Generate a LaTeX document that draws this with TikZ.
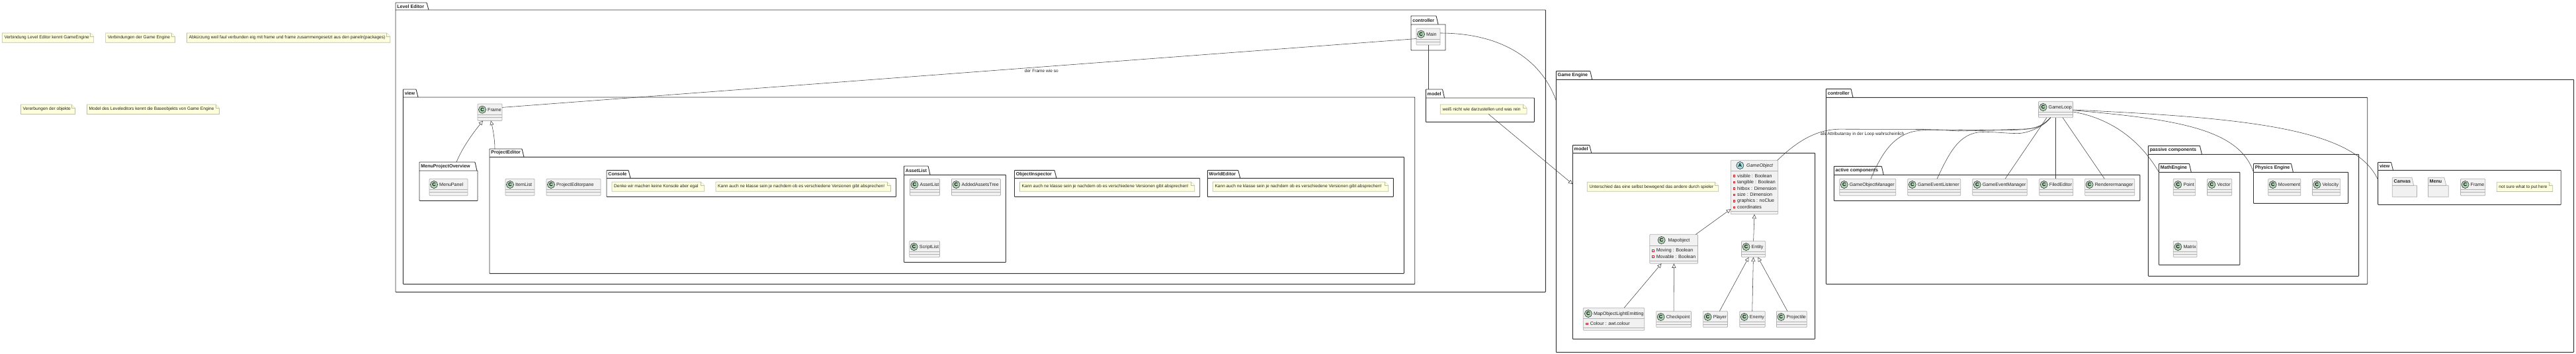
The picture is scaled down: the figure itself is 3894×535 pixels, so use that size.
\documentclass[tikz,border=0pt]{standalone}
\usepackage{fontspec}
\setmainfont{Liberation Sans}
\usetikzlibrary{arrows.meta}
\definecolor{clsfill}{HTML}{F1F1F1}
\definecolor{clsline}{HTML}{B0B0B0}
\definecolor{notefill}{HTML}{FEFFDD}
\definecolor{noteline}{HTML}{BDBDA8}
\definecolor{circC}{HTML}{ADD1B2}
\definecolor{circA}{HTML}{A9DCDF}
\definecolor{pkgline}{HTML}{333333}
\definecolor{edgeline}{HTML}{404040}
\definecolor{attrred}{HTML}{C82930}
\definecolor{txt}{HTML}{202020}
\tikzset{
  clsnode/.style={draw=clsline,fill=clsfill,line width=.7pt,rounded corners=1pt,inner sep=0pt,outer sep=0pt},
  clstext/.style={font=\fontsize{7.1}{8}\selectfont,text=txt,inner sep=0pt,anchor=west},
  noteshape/.style={draw=noteline,fill=notefill,line width=.7pt},
  notetext/.style={font=\fontsize{6.6}{8}\selectfont,text=txt,inner sep=0pt,anchor=west},
  pkgnode/.style={draw=pkgline,line width=.9pt,rounded corners=.6pt,inner sep=0pt,outer sep=0pt},
  tabtext/.style={font=\bfseries\fontsize{7.1}{8}\selectfont,text=txt,inner sep=0pt,anchor=west},
  edgeln/.style={draw=edgeline,line width=.55pt},
  inherit/.style={edgeln,-{Triangle[open,length=6.5pt,width=6pt]}},
  linklabel/.style={font=\fontsize{6.6}{8}\selectfont,text=txt,inner sep=0pt}
}
\newcommand{\umlbody}[5]{%
  \node[clsnode,minimum width={(#4-#2)*1pt},minimum height={(#5-#3)*1pt}] (#1) at ({(#2+#4)/2},{(#3+#5)/2}) {};}
\newcommand{\umlcirc}[4]{%
  \draw[draw=txt,fill=#4,line width=.5pt] (#1,#2) circle (5.6pt);
  \node[font=\bfseries\fontsize{7.5}{8}\selectfont,inner sep=0pt,text=black] at (#1,#2) {#3};}
\newcommand{\umlcls}[6]{%
  \umlbody{#1}{#2}{#3}{#4}{#5}
  \draw[draw=clsline,line width=.7pt] (#2,{#3+16}) -- (#4,{#3+16}) (#2,{#3+20.5}) -- (#4,{#3+20.5});
  \umlcirc{{#2+7}}{{#3+8.7}}{C}{circC}
  \node[clstext] (#1-l) at ({#2+15},{#3+9}) {#6};}
\newcommand{\umlattr}[4]{%
  \draw[draw=attrred,fill=white,line width=.45pt] ({#2-6.2},{#3-1.4}) rectangle ({#2-3.4},{#3+1.4});
  \node[clstext] (#1) at (#2,#3) {#4};}
\newcommand{\umlnote}[6]{%
  \node[inner sep=0pt,minimum width={(#4-#2)*1pt},minimum height={(#5-#3)*1pt}] (#1) at ({(#2+#4)/2},{(#3+#5)/2}) {};
  \draw[noteshape] (#2,#3) -- ({#4-5.3},#3) -- (#4,{#3+5.3}) -- (#4,#5) -- (#2,#5) -- cycle;
  \draw[noteshape] ({#4-5.3},#3) -- ({#4-5.3},{#3+5.3}) -- (#4,{#3+5.3});
  \node[notetext] (#1-t) at ({#2+3},{(#3+#5)/2}) {#6};}
\newcommand{\umlpkg}[8]{%
  \node[pkgnode,minimum width={(#5-#2)*1pt},minimum height={(#6-#4)*1pt}] (#1) at ({(#2+#5)/2},{(#4+#6)/2}) {};
  \draw[draw=pkgline,line width=.9pt,rounded corners=.6pt] (#2,#4) -- (#2,#3) -- ({#7-3},#3) -- (#7,#4);
  \node[tabtext] (#1-t) at ({#2+2.2},{(#3+#4)/2}) {#8};}
\newcommand{\umlfolder}[7]{%
  \node[inner sep=0pt,minimum width={(#5-#2)*1pt},minimum height={(#6-#4)*1pt}] (#1) at ({(#2+#5)/2},{(#4+#6)/2}) {};
  \draw[draw=clsline,fill=clsfill,line width=.7pt,rounded corners=.6pt] (#2,#4) -- (#2,#3) -- ({#7-3},#3) -- (#7,#4) -- (#5,#4) -- (#5,#6) -- (#2,#6) -- cycle;
  \draw[draw=clsline,line width=.7pt] (#2,#4) -- (#7,#4);}
\begin{document}
\begin{tikzpicture}[x=1pt,y=-1pt]
\useasboundingbox (0,0) rectangle (3894,535);
\umlnote{n1}{3.3}{50}{141.6}{64.3}{Verbindung Level Editor kennt GameEngine}
\umlnote{n2}{159.6}{50}{264.5}{64.3}{Verbindungen der Game Engine}
\umlnote{n3}{282.4}{50}{589.8}{64.3}{Abkürzung weil faul verbunden eig mit frame und frame zusammengesetzt aus den paneln(packages)}
\umlnote{n4}{31.4}{158}{113.5}{172.4}{Vererbungen der objekte}
\umlnote{n5}{131.4}{158}{331.4}{172.4}{Model des Leveleditors kennt die Baseobjekts von Game Engine}
\umlpkg{le}{598}{4}{15}{2336.3}{441.3}{648}{Level Editor}
\umlpkg{lectl}{2133}{24}{37}{2185}{76}{2174}{controller}
\umlcls{main}{2141}{43}{2177}{68}{Main}
\umlpkg{lemodel}{2155.3}{135}{148}{2319.3}{184.3}{2183.5}{model}
\umlnote{lenote}{2177.3}{158}{2308}{172.3}{weiß nicht wie darzustellen und was rein}
\umlpkg{leview}{609.4}{135}{147}{2138.7}{429.3}{632}{view}
\umlcls{frame}{722}{157}{759}{182.4}{Frame}
\umlpkg{mpo}{634}{245}{258}{722}{303.3}{721}{MenuProjectOverview}
\umlcls{menupanel}{649}{270.3}{707}{295.7}{MenuPanel}
\umlpkg{pe}{740}{225}{237.3}{2122.3}{413.3}{792}{ProjectEditor}
\umlcls{itemlist}{764}{270.3}{808}{295.7}{ItemList}
\umlcls{pepane}{826}{270.3}{908}{295.7}{ProjectEditorpane}
\umlpkg{console}{917}{257.3}{269.3}{1354.5}{297.3}{953}{Console}
\umlnote{cn1}{925}{275}{1064.7}{289.3}{Denke wir machen keine Konsole aber egal}
\umlnote{cn2}{1082}{275}{1346.4}{289.3}{Kann auch ne klasse sein je nachdem ob es verschiedene Versionen gibt absprechen!}
\umlpkg{asset}{1366.5}{251}{264.3}{1520.5}{396.3}{1406}{AssetList}
\umlcls{assetlist}{1375.4}{270.3}{1420.5}{295.7}{AssetList}
\umlcls{addedtree}{1438.4}{270.3}{1512.5}{295.7}{AddedAssetsTree}
\umlcls{scriptlist}{1374.6}{364.3}{1420.5}{388.7}{ScriptList}
\umlpkg{objinsp}{1533.5}{257.3}{269.3}{1813.7}{297.3}{1597}{ObjectInspector}
\umlnote{on1}{1541.5}{275}{1805.7}{289.3}{Kann auch ne klasse sein je nachdem ob es verschiedene Versionen gibt absprechen!}
\umlpkg{world}{1825.3}{257.3}{269.3}{2106.3}{297.3}{1874.7}{WorldEditor}
\umlnote{wn1}{1833.3}{275}{2098.7}{289.3}{Kann auch ne klasse sein je nachdem ob es verschiedene Versionen gibt absprechen!}
\umlpkg{ge}{2352.3}{107.3}{120.3}{3890.5}{532.3}{2406.7}{Game Engine}
\umlpkg{gemodel}{2377.3}{219.3}{231.3}{2743.6}{512.3}{2405.7}{model}
\umlnote{genote}{2399.3}{275.3}{2597.7}{289.3}{Unterschied das eine selbst bewegend das andere durch spieler}
\umlbody{gameobject}{2616.3}{242.3}{2687.7}{323.7}
\draw[draw=clsline,line width=.7pt] (2616.3,258.3) -- (2687.7,258.3) (2616.3,319) -- (2687.7,319);
\umlcirc{2630.3}{250}{A}{circA}
\node[clstext,font=\itshape\fontsize{7.1}{8}\selectfont] (gameobject-l) at (2640,250.5) {GameObject};
\umlattr{ga1}{2626}{265.7}{visible : Boolean}
\umlattr{ga2}{2626}{275.3}{tangible : Boolean}
\umlattr{ga3}{2626}{285}{hitbox : Dimension}
\umlattr{ga4}{2626}{294.3}{size : Dimension}
\umlattr{ga5}{2626}{303.7}{graphics : noClue}
\umlattr{ga6}{2626}{313.3}{coordinates}
\umlbody{mapobject}{2493.8}{354.3}{2566.5}{398.3}
\draw[draw=clsline,line width=.7pt] (2493.8,371.3) -- (2566.5,371.3) (2493.8,394.3) -- (2566.5,394.3);
\umlcirc{2511.6}{363}{C}{circC}
\node[clstext] (mapobject-l) at (2521.4,363.3) {Mapobject};
\umlattr{ma1}{2503.6}{378.7}{Moving : Boolean}
\umlattr{ma2}{2503.6}{388}{Movable : Boolean}
\umlbody{mole}{2393.3}{465.3}{2485.7}{499.3}
\draw[draw=clsline,line width=.7pt] (2393.3,481.7) -- (2485.7,481.7) (2393.3,495.7) -- (2485.7,495.7);
\umlcirc{2400.9}{474}{C}{circC}
\node[clstext] (mole-l) at (2408.9,474.3) {MapObjectLightEmitting};
\umlattr{mo1}{2403.6}{489.3}{Colour : awt.colour}
\umlcls{checkpoint}{2503.6}{470.3}{2556.5}{494.7}{Checkpoint}
\umlcls{entity}{2632.5}{364.3}{2668.7}{388.7}{Entity}
\umlcls{player}{2574.6}{470.3}{2611.4}{494.7}{Player}
\umlcls{enemy}{2629.7}{470.3}{2668.2}{494.7}{Enemy}
\umlcls{projectile}{2685.4}{470.3}{2731.3}{494.7}{Projectile}
\umlpkg{gectl}{2760.4}{134.3}{147.3}{3578.7}{429.3}{2801}{controller}
\umlcls{gameloop}{3081.5}{153.3}{3133.4}{177.7}{GameLoop}
\umlpkg{active}{2772.3}{251.3}{264.3}{3234.8}{303.3}{2847.3}{active components}
\umlcls{gom}{2780.7}{270.3}{2865.7}{295.7}{GameObjectManager}
\umlcls{gel}{2883.7}{270.3}{2963.7}{295.7}{GameEventListener}
\umlcls{gem}{2981.7}{270.3}{3064.3}{295.7}{GameEventManager}
\umlcls{filed}{3082.7}{270.3}{3133.8}{295.7}{FiledEditor}
\umlcls{render}{3151.6}{270.3}{3226.7}{295.7}{Renderermanager}
\umlpkg{passive}{3247.4}{220.3}{233.3}{3565.6}{417.3}{3328.4}{passive components}
\umlpkg{math}{3263.5}{247.3}{260.3}{3385.8}{400.3}{3312.3}{MathEngine}
\umlcls{point}{3285.3}{270.3}{3318.6}{295.7}{Point}
\umlcls{vector}{3336.4}{270.3}{3373.7}{295.7}{Vector}
\umlcls{matrix}{3285.3}{364.3}{3320.9}{388.7}{Matrix}
\umlpkg{physics}{3406.5}{247.3}{260.3}{3549.6}{307.3}{3466.4}{Physics Engine}
\umlcls{movement}{3428.7}{270.3}{3477.8}{295.7}{Movement}
\umlcls{velocity}{3495.4}{270.3}{3537.6}{295.7}{Velocity}
\umlpkg{geview}{3594.6}{245.3}{257.3}{3871.2}{309.3}{3617.5}{view}
\umlfolder{canvas}{3616.3}{268.3}{280.3}{3653.4}{297.7}{3648.8}
\node[tabtext] (canvas-l) at (3618.5,274.5) {Canvas};
\umlfolder{menu}{3670.5}{268.3}{280.3}{3701.3}{297.7}{3697.8}
\node[tabtext] (menu-l) at (3672.5,274.5) {Menu};
\umlcls{geframe}{3719.5}{270.3}{3756.6}{295.7}{Frame}
\umlnote{vn1}{3774.2}{275.3}{3858.6}{289.5}{not sure what to put here}
% connectors: Level Editor
\draw[edgeln] ([shift={(0,3)}]main.west) -- ([shift={(0,-20)}]frame.south east) node[linklabel,pos=.41,below=3.5pt] (l1) {der Frame wie so};
\draw[edgeln] ([shift={(18,0)}]main.south west) -- ([shift={(3.7,-13)}]lemodel.north west);
\draw[edgeln] ([shift={(0,-18)}]main.south east) .. controls (2270,50) and (2330,90) .. ([shift={(0,31.7)}]ge.north west);
\draw[inherit] ([shift={(73,0)}]lenote.south west) -- ([shift={(0,47)}]gemodel.north west);
\draw[inherit] ([shift={(56,-13)}]mpo.north west) .. controls (700,220) and (720,195) .. ([shift={(8,0)}]frame.south west);
\draw[inherit] ([shift={(8,-12.3)}]pe.north west) .. controls (748,210) and (745,195) .. ([shift={(20,0)}]frame.south west);
% inheritance
\draw[inherit] ([shift={(-3.2,0)}]mapobject.north east) -- ([shift={(0,-7.7)}]gameobject.south west);
\draw[inherit] (entity.north) -- (gameobject.south);
\draw[inherit] ([shift={(61.7,0)}]mole.north west) -- ([shift={(17.8,0)}]mapobject.south west);
\draw[inherit] (checkpoint.north) -- ([shift={(36.6,0)}]mapobject.south west);
\draw[inherit] ([shift={(24.7,0)}]player.north west) -- ([shift={(11,0)}]entity.south west);
\draw[inherit] ([shift={(19,0)}]enemy.north west) -- ([shift={(17.9,0)}]entity.south west);
\draw[inherit] ([shift={(16.6,0)}]projectile.north west) -- ([shift={(24.8,0)}]entity.south west);
% GameLoop
\draw[edgeln] ([shift={(18.3,0)}]gameloop.south west) .. controls (3090,188) and (3085,194) .. (3060,195) .. controls (3000,197) and (2970,197) .. (2907,195.5) -- (2780,195.2) .. controls (2740,196) and (2710,220) .. ([shift={(-1,0)}]gameobject.north east);
\node[linklabel,anchor=west] (l2) at (2752,202.7) {als Attributarray in der Loop wahrscheinlich};
\draw[edgeln] ([shift={(18.3,0)}]gameloop.south west) .. controls (3085,192) and (3075,196) .. (3040,196.5) -- (2960,198) .. controls (2930,196) and (2907,196) .. (2907,197) .. controls (2865,198) and (2845,230) .. ([shift={(47.3,0)}]gom.north west);
\draw[edgeln] ([shift={(18.3,0)}]gameloop.south west) .. controls (3090,190) and (3070,200) .. (3053,201.5) .. controls (3035,202) and (3015,199) .. (2997,199.5) .. controls (2960,200) and (2945,235) .. ([shift={(44.3,0)}]gel.north west);
\draw[edgeln] ([shift={(12.5,0)}]gameloop.south west) -- ([shift={(49.3,0)}]gem.north west);
\draw[edgeln] ([shift={(25.5,0)}]gameloop.south west) -- ([shift={(24.3,0)}]filed.north west);
\draw[edgeln] ([shift={(36.5,0)}]gameloop.south west) -- ([shift={(29.7,0)}]render.north west);
\draw[edgeln] ([shift={(0,-8.7)}]gameloop.south east) .. controls (3199,180) and (3240,220) .. (math.north west);
\draw[edgeln] ([shift={(0,-11)}]gameloop.south east) .. controls (3290,180) and (3385,195) .. (physics.north west);
\draw[edgeln] ([shift={(0,-11.7)}]gameloop.south east) .. controls (3400,178) and (3560,195) .. ([shift={(0,14.4)}]geview.north west);
\end{tikzpicture}
\end{document}
